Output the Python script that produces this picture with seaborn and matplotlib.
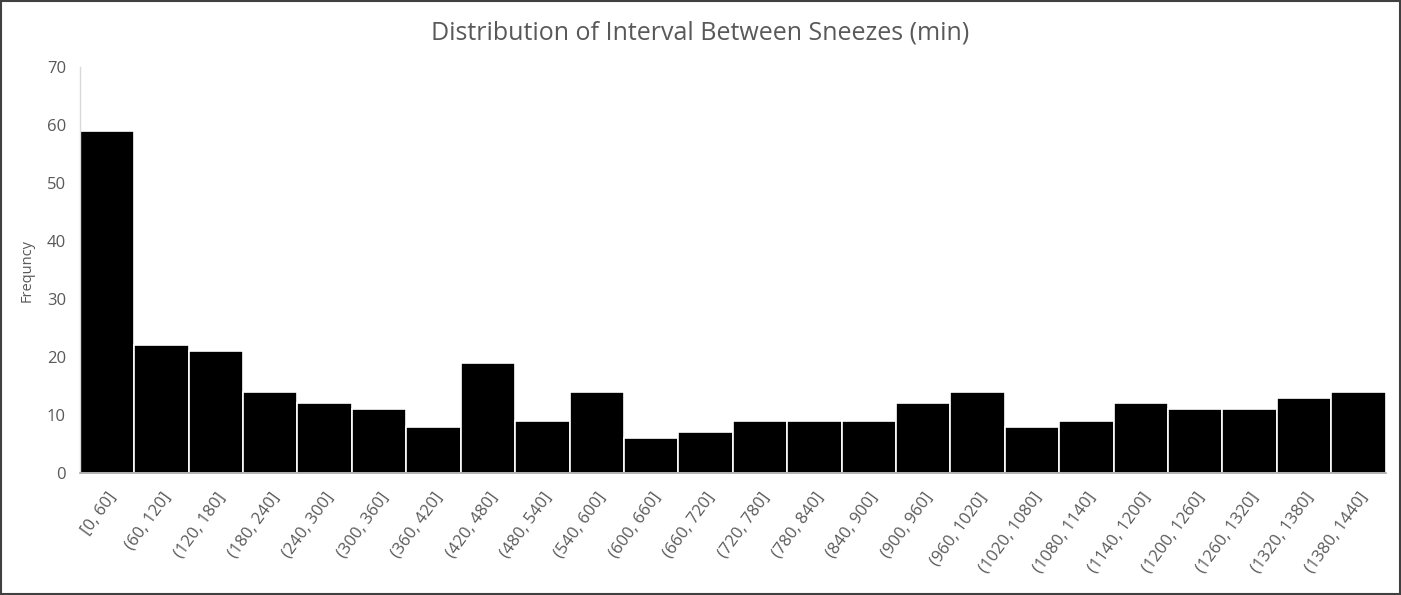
import matplotlib
matplotlib.use("Agg")
import matplotlib.pyplot as plt
import matplotlib.patches as mpatches
import seaborn as sns
import pandas as pd

# 数据
bins = ["[0, 60]", "(60, 120]", "(120, 180]", "(180, 240]", "(240, 300]", "(300, 360]",
        "(360, 420]", "(420, 480]", "(480, 540]", "(540, 600]", "(600, 660]", "(660, 720]",
        "(720, 780]", "(780, 840]", "(840, 900]", "(900, 960]", "(960, 1020]", "(1020, 1080]",
        "(1080, 1140]", "(1140, 1200]", "(1200, 1260]", "(1260, 1320]", "(1320, 1380]", "(1380, 1440]"]
freq = [59, 22, 21, 14, 12, 11, 8, 19, 9, 14, 6, 7,
        9, 9, 9, 12, 14, 8, 9, 12, 11, 11, 13, 14]
yticks = [0, 10, 20, 30, 40, 50, 60, 70]

df = pd.DataFrame({"bin": bins, "freq": freq})

sns.set_theme(style="white")
plt.rcParams['font.family'] = ['Open Sans', 'DejaVu Sans']

TEXT = "#595959"

fig = plt.figure(figsize=(14.01, 5.95), dpi=100)
ax = fig.add_axes([0.057, 0.205, 0.932, 0.682])

sns.barplot(data=df, x="bin", y="freq", color="black", width=1.0,
            edgecolor="white", linewidth=1.2, saturation=1, ax=ax)

ax.set_ylim(0, 70)
ax.set_xlim(-0.5, len(bins) - 0.5)
ax.set_yticks(yticks)
ax.tick_params(axis='y', length=0, labelsize=12, labelcolor=TEXT, pad=10)
ax.tick_params(axis='x', length=0, labelsize=12, labelcolor=TEXT, pad=12)
plt.setp(ax.get_xticklabels(), rotation=54, ha='right', rotation_mode='anchor')

ax.set_xlabel("")
ax.set_ylabel("Frequncy", fontsize=10.5, color=TEXT, labelpad=9)
fig.suptitle("Distribution of Interval Between Sneezes (min)", fontsize=18,
             color=TEXT, x=0.5, y=0.965)

for s in ['top', 'right']:
    ax.spines[s].set_visible(False)
ax.spines['left'].set_color("#d9d9d9")
ax.spines['bottom'].set_color("#a6a6a6")
ax.spines['left'].set_linewidth(1)
ax.spines['bottom'].set_linewidth(1.2)

# 外框
fig.patches.append(mpatches.Rectangle((0.001, 0.002), 0.998, 0.996, transform=fig.transFigure,
                                      fill=False, edgecolor="#404040", linewidth=1.5))

fig.savefig("out.png", dpi=100)
